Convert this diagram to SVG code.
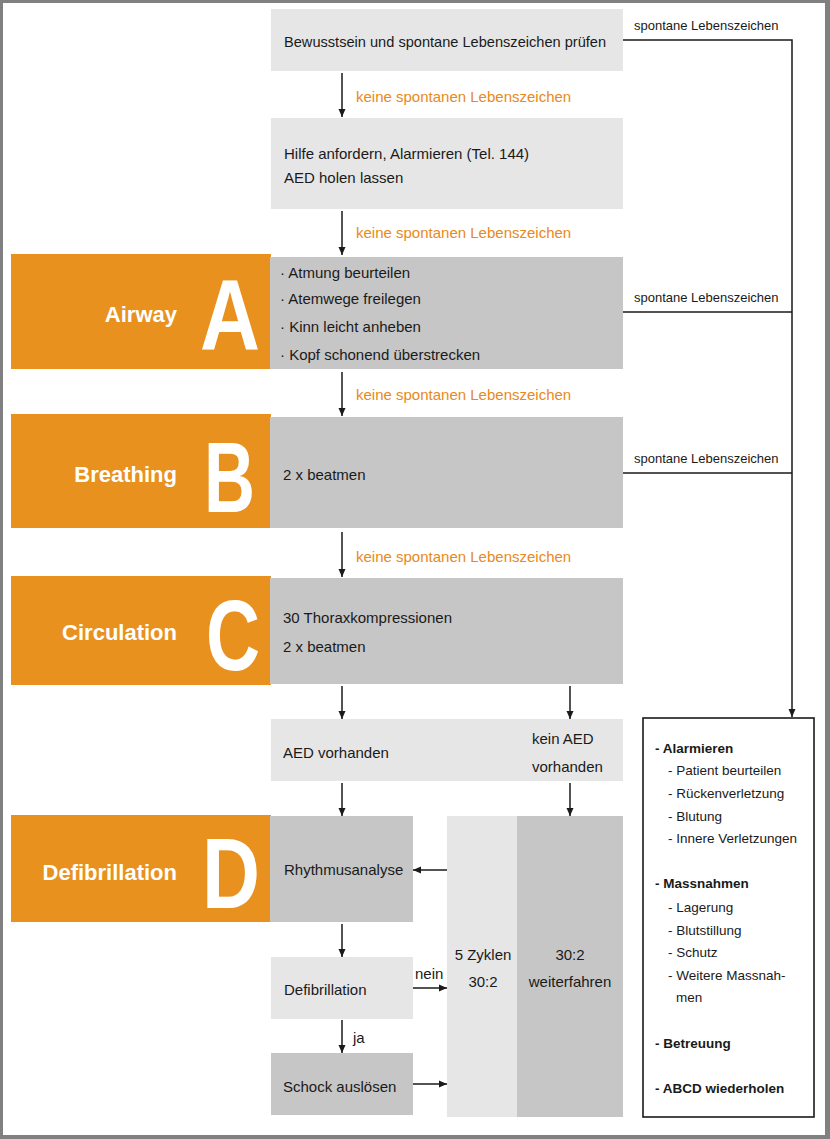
<svg xmlns="http://www.w3.org/2000/svg" width="830" height="1139" viewBox="0 0 830 1139">
<defs>
<style>
.t{font-family:"Liberation Sans",Arial,sans-serif;font-size:15px;fill:#1a1a1a}
.o{font-family:"Liberation Sans",Arial,sans-serif;font-size:15px;fill:#E8891A}
.s{font-family:"Liberation Sans",Arial,sans-serif;font-size:13px;fill:#1a1a1a}
.r{font-family:"Liberation Sans",Arial,sans-serif;font-size:13.5px;fill:#1a1a1a}
.rb{font-family:"Liberation Sans",Arial,sans-serif;font-size:13.5px;font-weight:bold;fill:#1a1a1a}
.lab{font-family:"Liberation Sans",Arial,sans-serif;font-size:22px;font-weight:bold;fill:#ffffff;text-anchor:end}
.big{font-family:"Liberation Sans",Arial,sans-serif;font-size:100px;font-weight:bold;fill:#ffffff}
.lt{fill:#E6E6E6}
.md{fill:#C6C6C6}
.or{fill:#E9911F}
.ln{stroke:#1a1a1a;stroke-width:1.5;fill:none}
</style>
<marker id="ah" markerWidth="8" markerHeight="8" refX="8" refY="4" orient="auto" markerUnits="userSpaceOnUse">
<path d="M0,0.5 L8,4 L0,7.5 z" fill="#1a1a1a"/>
</marker>
</defs>
<rect x="0" y="0" width="830" height="1139" fill="#ffffff"/>
<path d="M0,0 H830 V1139 H0 Z M3,3 V1135 H825 V3 Z" fill="#808080" fill-rule="evenodd"/>

<g id="node-check">
<rect class="lt" x="271" y="9" width="352" height="62"/>
<text class="t" x="284" y="47" style="font-size:14.6px">Bewusstsein und spontane Lebenszeichen prüfen</text>
</g>

<g id="node-alarm">
<rect class="lt" x="271" y="118" width="352" height="91"/>
<text class="t" x="284" y="159">Hilfe anfordern, Alarmieren (Tel. 144)</text>
<text class="t" x="284" y="183">AED holen lassen</text>
</g>

<g id="node-airway">
<rect class="or" x="11" y="254" width="260" height="115"/>
<rect class="md" x="270" y="257" width="353" height="112"/>
<text class="lab" x="177" y="322">Airway</text>
<text class="big" x="200" y="350" textLength="60" lengthAdjust="spacingAndGlyphs">A</text>
<text class="t" x="280" y="278">· Atmung beurteilen</text>
<text class="t" x="280" y="304">· Atemwege freilegen</text>
<text class="t" x="280" y="332">· Kinn leicht anheben</text>
<text class="t" x="280" y="360">· Kopf schonend überstrecken</text>
</g>

<g id="node-breathing">
<rect class="or" x="11" y="414" width="260" height="114"/>
<rect class="md" x="270" y="417" width="353" height="111"/>
<text class="lab" x="177" y="482">Breathing</text>
<text class="big" x="204" y="512" textLength="51" lengthAdjust="spacingAndGlyphs">B</text>
<text class="t" x="283" y="480">2 x beatmen</text>
</g>

<g id="node-circulation">
<rect class="or" x="11" y="576" width="260" height="109"/>
<rect class="md" x="270" y="578" width="353" height="106"/>
<text class="lab" x="177" y="640">Circulation</text>
<text class="big" x="206" y="670" textLength="54" lengthAdjust="spacingAndGlyphs">C</text>
<text class="t" x="283" y="623">30 Thoraxkompressionen</text>
<text class="t" x="283" y="652">2 x beatmen</text>
</g>

<g id="node-aed">
<rect class="lt" x="271" y="719" width="352" height="62"/>
<text class="t" x="283" y="758">AED vorhanden</text>
<text class="t" x="532" y="744">kein AED</text>
<text class="t" x="532" y="772">vorhanden</text>
</g>

<g id="node-defibrillation-label">
<rect class="or" x="11" y="815" width="260" height="107"/>
<text class="lab" x="177" y="880">Defibrillation</text>
<text class="big" x="202" y="908" textLength="58" lengthAdjust="spacingAndGlyphs">D</text>
</g>

<g id="node-rhythmus">
<rect class="md" x="270" y="816" width="143" height="106"/>
<text class="t" x="284" y="875">Rhythmusanalyse</text>
</g>

<g id="node-defib">
<rect class="lt" x="271" y="957" width="142" height="62"/>
<text class="t" x="284" y="995">Defibrillation</text>
</g>

<g id="node-schock">
<rect class="md" x="271" y="1053" width="142" height="62"/>
<text class="t" x="283" y="1092">Schock auslösen</text>
</g>

<g id="node-zyklen">
<rect class="lt" x="447" y="816" width="70" height="301"/>
<text class="t" x="483" y="960" text-anchor="middle">5 Zyklen</text>
<text class="t" x="483" y="987" text-anchor="middle">30:2</text>
</g>

<g id="node-weiter">
<rect class="md" x="517" y="816" width="106" height="301"/>
<text class="t" x="570" y="960" text-anchor="middle">30:2</text>
<text class="t" x="570" y="987" text-anchor="middle">weiterfahren</text>
</g>

<g id="node-massnahmen">
<rect x="643" y="718" width="171" height="399" fill="#ffffff" stroke="#1a1a1a" stroke-width="1.6"/>
<text class="rb" x="655" y="753">- Alarmieren</text>
<text class="r" x="668" y="775">- Patient beurteilen</text>
<text class="r" x="668" y="798">- Rückenverletzung</text>
<text class="r" x="668" y="821">- Blutung</text>
<text class="r" x="668" y="843">- Innere Verletzungen</text>
<text class="rb" x="655" y="888">- Massnahmen</text>
<text class="r" x="668" y="912">- Lagerung</text>
<text class="r" x="668" y="935">- Blutstillung</text>
<text class="r" x="668" y="957">- Schutz</text>
<text class="r" x="668" y="980">- Weitere Massnah-</text>
<text class="r" x="676" y="1002">men</text>
<text class="rb" x="655" y="1048">- Betreuung</text>
<text class="rb" x="655" y="1093">- ABCD wiederholen</text>
</g>

<g id="connectors">
<line class="ln" x1="342" y1="73" x2="342" y2="117" marker-end="url(#ah)"/>
<text class="o" x="356" y="102">keine spontanen Lebenszeichen</text>
<line class="ln" x1="342" y1="211" x2="342" y2="255" marker-end="url(#ah)"/>
<text class="o" x="356" y="238">keine spontanen Lebenszeichen</text>
<line class="ln" x1="342" y1="372" x2="342" y2="416" marker-end="url(#ah)"/>
<text class="o" x="356" y="400">keine spontanen Lebenszeichen</text>
<line class="ln" x1="342" y1="532" x2="342" y2="577" marker-end="url(#ah)"/>
<text class="o" x="356" y="562">keine spontanen Lebenszeichen</text>

<path class="ln" d="M623,40 H792 V717" marker-end="url(#ah)"/>
<text class="s" x="634" y="30">spontane Lebenszeichen</text>
<line class="ln" x1="623" y1="312" x2="792" y2="312"/>
<text class="s" x="634" y="302">spontane Lebenszeichen</text>
<line class="ln" x1="623" y1="473" x2="792" y2="473"/>
<text class="s" x="634" y="463">spontane Lebenszeichen</text>

<line class="ln" x1="342" y1="686" x2="342" y2="719" marker-end="url(#ah)"/>
<line class="ln" x1="570" y1="686" x2="570" y2="719" marker-end="url(#ah)"/>
<line class="ln" x1="342" y1="783" x2="342" y2="816" marker-end="url(#ah)"/>
<line class="ln" x1="570" y1="783" x2="570" y2="816" marker-end="url(#ah)"/>

<line class="ln" x1="447" y1="870" x2="413" y2="870" marker-end="url(#ah)"/>
<line class="ln" x1="342" y1="924" x2="342" y2="957" marker-end="url(#ah)"/>
<line class="ln" x1="413" y1="988" x2="447" y2="988" marker-end="url(#ah)"/>
<text class="t" x="415" y="979">nein</text>
<line class="ln" x1="342" y1="1020" x2="342" y2="1053" marker-end="url(#ah)"/>
<text class="t" x="353" y="1043">ja</text>
<line class="ln" x1="413" y1="1084" x2="447" y2="1084" marker-end="url(#ah)"/>
</g>
</svg>
